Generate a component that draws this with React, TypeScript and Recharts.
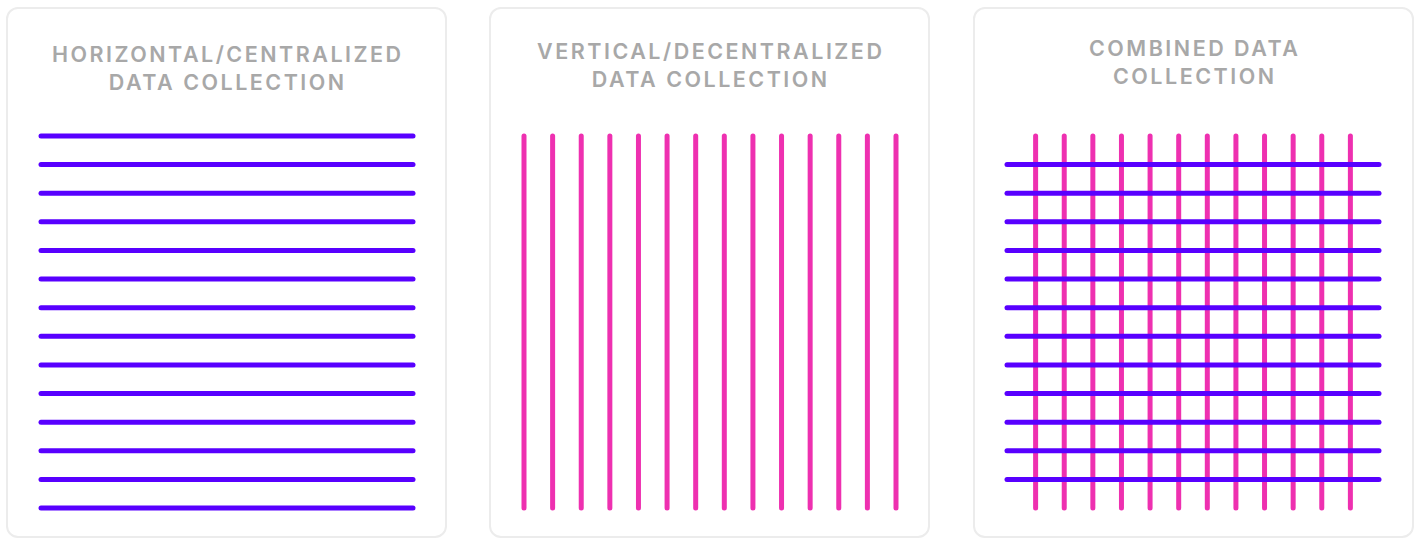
import { ScatterChart, Scatter, XAxis, YAxis } from 'recharts';

// line positions (on a 0..13 grid) for each panel
const leftRows = [0, 1, 2, 3, 4, 5, 6, 7, 8, 9, 10, 11, 12, 13];
const middleColumns = [0, 1, 2, 3, 4, 5, 6, 7, 8, 9, 10, 11, 12, 13];
const rightRows = [1, 2, 3, 4, 5, 6, 7, 8, 9, 10, 11, 12];
const rightColumns = [1, 2, 3, 4, 5, 6, 7, 8, 9, 10, 11, 12];
const lineSpan = [0, 13];

const titles = [
  ['HORIZONTAL/CENTRALIZED', 'DATA COLLECTION'],
  ['VERTICAL/DECENTRALIZED', 'DATA COLLECTION'],
  ['COMBINED DATA', 'COLLECTION'],
];

const PURPLE = '#5800ff';
const PINK = '#ee30b0';
const PAD = 6;
const SIZE = 372;

const noDot = () => <g />;

const GridLines = ({ rows, columns, left, top }: { rows: number[]; columns: number[]; left: number; top: number }) => {
  return (
    <div style={{ position: 'absolute', left: left - PAD, top: top - PAD }}>
      <ScatterChart width={SIZE + PAD * 2} height={SIZE + PAD * 2} margin={{ top: PAD, right: PAD, bottom: PAD, left: PAD }}>
        <XAxis type="number" dataKey="x" domain={[0, 13]} tickCount={14} hide />
        <YAxis type="number" dataKey="y" domain={[0, 13]} tickCount={14} hide reversed />
        {columns.map((c) => (
          <Scatter
            key={'v' + c}
            data={lineSpan.map((y) => ({ x: c, y }))}
            fill={PINK}
            line={{ stroke: PINK, strokeWidth: 5, strokeLinecap: 'round' }}
            shape={noDot}
            isAnimationActive={false}
          />
        ))}
        {rows.map((r) => (
          <Scatter
            key={'h' + r}
            data={lineSpan.map((x) => ({ x, y: r }))}
            fill={PURPLE}
            line={{ stroke: PURPLE, strokeWidth: 5, strokeLinecap: 'round' }}
            shape={noDot}
            isAnimationActive={false}
          />
        ))}
      </ScatterChart>
    </div>
  );
};

const Panel = ({ left, title, titleTop }: { left: number; title: string[]; titleTop: number }) => (
  <div
    style={{
      position: 'absolute',
      left,
      top: 7,
      width: 441,
      height: 531,
      boxSizing: 'border-box',
      border: '2px solid #ececec',
      borderRadius: 12,
      background: '#fff',
    }}
  >
    <div
      style={{
        position: 'absolute',
        left: 0,
        right: 0,
        top: titleTop,
        textAlign: 'center',
        fontFamily: 'Inter, sans-serif',
        fontWeight: 600,
        fontSize: 21.5,
        lineHeight: '28px',
        letterSpacing: 2.5,
        paddingLeft: 2.5,
        color: '#a8a8a8',
      }}
    >
      {title.map((t) => (
        <div key={t}>{t}</div>
      ))}
    </div>
  </div>
);

export default function App() {
  return (
    <div style={{ position: 'absolute', left: 0, top: 0, width: 1418, height: 538, background: '#fff', overflow: 'hidden' }}>
      <Panel left={6} title={titles[0]} titleTop={31} />
      <Panel left={489} title={titles[1]} titleTop={28} />
      <Panel left={973} title={titles[2]} titleTop={25} />
      <GridLines rows={leftRows} columns={[]} left={40.5} top={136.3} />
      <GridLines rows={[]} columns={middleColumns} left={523.5} top={136.3} />
      <GridLines rows={rightRows} columns={rightColumns} left={1007} top={136.3} />
    </div>
  );
}
